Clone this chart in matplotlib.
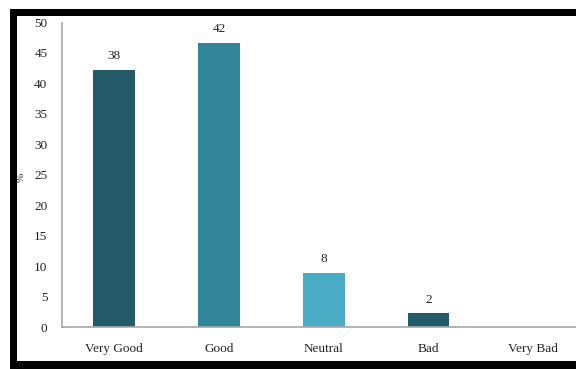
import matplotlib
matplotlib.use("Agg")
import matplotlib.pyplot as plt
from matplotlib.patches import Rectangle

# Survey responses (counts) by rating
categories = ["Very Good", "Good", "Neutral", "Bad", "Very Bad"]
counts = [38, 42, 8, 2, 0]
bar_colors = ["#245a69", "#318599", "#4aabc5", "#245a69", "#245a69"]
y_ticks = [0, 5, 10, 15, 20, 25, 30, 35, 40, 45, 50]

total = sum(counts)
percents = [c / total * 100 for c in counts]

plt.rcParams["font.family"] = ["Liberation Serif", "DejaVu Serif"]

W, H = 576, 369
fig = plt.figure(figsize=(W / 100, H / 100), dpi=100)
fig.patch.set_facecolor("white")

ax = fig.add_axes([62 / W, 42 / H, 523.5 / W, 304.5 / H])
x = list(range(len(categories)))
bars = ax.bar(x, percents, width=0.4, color=bar_colors, zorder=2)

for xi, p, c in zip(x, percents, counts):
    if c > 0:
        ax.annotate(str(c), (xi, p), xytext=(0, 5.5), textcoords="offset points",
                    ha="center", va="bottom", fontsize=9.5, color="#222222")

ax.set_xlim(-0.5, len(categories) - 0.5)
ax.set_ylim(0, 50)
ax.set_yticks(y_ticks)
ax.set_xticks(x)
ax.set_xticklabels(categories)
ax.tick_params(axis="both", length=0, labelsize=9.5, colors="#222222")
ax.tick_params(axis="y", pad=10.5)
ax.tick_params(axis="x", pad=11.5)

for side in ("top", "right"):
    ax.spines[side].set_visible(False)
for side in ("left", "bottom"):
    ax.spines[side].set_color("#a6a6a6")
    ax.spines[side].set_linewidth(1.2)

ax.set_ylabel("%", fontsize=8, color="#222222")
ax.yaxis.set_label_coords(-0.07, 0.49)

# Black frame around the chart
frame = dict(transform=None, facecolor="black", edgecolor="none", zorder=10)
fig.patches.append(Rectangle((10, H - 16), W, 7, **frame))
fig.patches.append(Rectangle((10, 0), 7, H - 9, **frame))
fig.patches.append(Rectangle((10, 0), W, 8, **frame))

fig.savefig("out.png", dpi=100, facecolor="white")
